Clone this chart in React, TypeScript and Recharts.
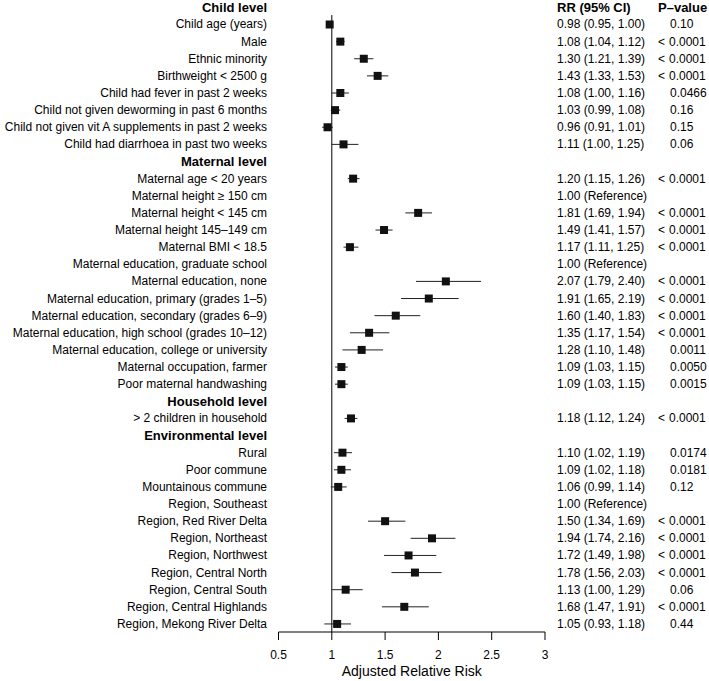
import { ScatterChart, Scatter, XAxis, YAxis, ErrorBar, ReferenceLine } from "recharts";

const labels = [
  "Child level",
  "Child age (years)",
  "Male",
  "Ethnic minority",
  "Birthweight < 2500 g",
  "Child had fever in past 2 weeks",
  "Child not given deworming in past 6 months",
  "Child not given vit A supplements in past 2 weeks",
  "Child had diarrhoea in past two weeks",
  "Maternal level",
  "Maternal age < 20 years",
  "Maternal height ≥ 150 cm",
  "Maternal height < 145 cm",
  "Maternal height 145–149 cm",
  "Maternal BMI < 18.5",
  "Maternal education, graduate school",
  "Maternal education, none",
  "Maternal education, primary (grades 1–5)",
  "Maternal education, secondary (grades 6–9)",
  "Maternal education, high school (grades 10–12)",
  "Maternal education, college or university",
  "Maternal occupation, farmer",
  "Poor maternal handwashing",
  "Household level",
  "> 2 children in household",
  "Environmental level",
  "Rural",
  "Poor commune",
  "Mountainous commune",
  "Region, Southeast",
  "Region, Red River Delta",
  "Region, Northeast",
  "Region, Northwest",
  "Region, Central North",
  "Region, Central South",
  "Region, Central Highlands",
  "Region, Mekong River Delta",
];

const headerRows = [0, 9, 23, 25];

// null = no estimate drawn (section header or reference category)
const rr = [
  null, 0.98, 1.08, 1.3, 1.43, 1.08, 1.03, 0.96, 1.11,
  null, 1.2, null, 1.81, 1.49, 1.17, null, 2.07, 1.91, 1.6, 1.35, 1.28, 1.09, 1.09,
  null, 1.18,
  null, 1.1, 1.09, 1.06, null, 1.5, 1.94, 1.72, 1.78, 1.13, 1.68, 1.05,
];
const lower = [
  null, 0.95, 1.04, 1.21, 1.33, 1.0, 0.99, 0.91, 1.0,
  null, 1.15, null, 1.69, 1.41, 1.11, null, 1.79, 1.65, 1.4, 1.17, 1.1, 1.03, 1.03,
  null, 1.12,
  null, 1.02, 1.02, 0.99, null, 1.34, 1.74, 1.49, 1.56, 1.0, 1.47, 0.93,
];
const upper = [
  null, 1.0, 1.12, 1.39, 1.53, 1.16, 1.08, 1.01, 1.25,
  null, 1.26, null, 1.94, 1.57, 1.25, null, 2.4, 2.19, 1.83, 1.54, 1.48, 1.15, 1.15,
  null, 1.24,
  null, 1.19, 1.18, 1.14, null, 1.69, 2.16, 1.98, 2.03, 1.29, 1.91, 1.18,
];
const pValues = [
  "", "0.10", "< 0.0001", "< 0.0001", "< 0.0001", "0.0466", "0.16", "0.15", "0.06",
  "", "< 0.0001", "", "< 0.0001", "< 0.0001", "< 0.0001", "", "< 0.0001", "< 0.0001",
  "< 0.0001", "< 0.0001", "0.0011", "0.0050", "0.0015",
  "", "< 0.0001",
  "", "0.0174", "0.0181", "0.12", "", "< 0.0001", "< 0.0001", "< 0.0001", "< 0.0001",
  "0.06", "< 0.0001", "0.44",
];

const xTicks = [0.5, 1, 1.5, 2, 2.5, 3];
const rrHeader = "RR (95% CI)";
const pHeader = "P–value";
const xTitle = "Adjusted Relative Risk";

const fmt = (v: number) => v.toFixed(2);

const rows = labels.map((label, i) => {
  const est = rr[i];
  const lo = lower[i];
  const hi = upper[i];
  let rrText = "";
  if (est != null && lo != null && hi != null) rrText = `${fmt(est)} (${fmt(lo)}, ${fmt(hi)})`;
  else if (!headerRows.includes(i)) rrText = "1.00 (Reference)";
  return { row: i, label, rr: est, lo, hi, rrText, p: pValues[i], header: headerRows.includes(i) };
});

const points = rows
  .filter((r) => r.rr != null)
  .map((r) => ({ row: r.row, rr: r.rr as number, err: [(r.rr as number) - (r.lo as number), (r.hi as number) - (r.rr as number)] }));

const FONT = "'Liberation Sans', Arial, Helvetica, sans-serif";

// text columns: labels on the left, estimates and p-values on the right
const RowTick = (props: any) => {
  const { y, payload } = props;
  const r = rows[payload.value];
  if (!r) return null;
  return (
    <g fontFamily={FONT} fill="#000">
      <text
        x={267}
        y={y}
        textAnchor="end"
        dominantBaseline="central"
        fontSize={r.header ? 13 : 12}
        fontWeight={r.header ? "bold" : "normal"}
      >
        {r.label}
      </text>
      {r.row === 0 && (
        <>
          <text x={557} y={y} dominantBaseline="central" fontSize={13} fontWeight="bold">
            {rrHeader}
          </text>
          <text x={658} y={y} dominantBaseline="central" fontSize={13} fontWeight="bold">
            {pHeader}
          </text>
        </>
      )}
      {r.rrText && (
        <text x={557} y={y} dominantBaseline="central" fontSize={12}>
          {r.rrText}
        </text>
      )}
      {r.p &&
        (r.p.startsWith("<") ? (
          <>
            <text x={658} y={y} dominantBaseline="central" fontSize={12}>
              {"<"}
            </text>
            <text x={669} y={y} dominantBaseline="central" fontSize={12}>
              {r.p.replace("< ", "")}
            </text>
          </>
        ) : (
          <text x={670} y={y} dominantBaseline="central" fontSize={12}>
            {r.p}
          </text>
        ))}
    </g>
  );
};

const Square = (props: any) => {
  const { cx, cy } = props;
  return <rect x={cx - 4} y={cy - 4} width={8} height={8} fill="#111" />;
};

export default function App() {
  return (
    <div style={{ position: "absolute", left: 0, top: 0, background: "#fff" }}>
      <ScatterChart width={709} height={681} margin={{ top: 0, right: 164, bottom: 0, left: 0 }}>
        <XAxis
          type="number"
          dataKey="rr"
          domain={[0.5, 3]}
          ticks={xTicks}
          interval={0}
          allowDataOverflow
          height={49}
          stroke="#000"
          tickSize={8}
          tickMargin={10}
          tick={{ fill: "#000", fontSize: 12, fontFamily: FONT }}
          label={{ value: xTitle, position: "insideBottom", offset: 5, fill: "#000", fontSize: 14, fontFamily: FONT }}
        />
        <YAxis
          type="number"
          dataKey="row"
          domain={[-0.43, 36.47]}
          reversed
          ticks={rows.map((r) => r.row)}
          interval={0}
          allowDataOverflow
          width={278.5}
          axisLine={false}
          tickLine={false}
          tick={<RowTick />}
        />
        <ReferenceLine
          segment={[
            { x: 1, y: 0.45 },
            { x: 1, y: 36.47 },
          ]}
          stroke="#000"
          strokeWidth={1}
          ifOverflow="visible"
        />
        <Scatter data={points} shape={<Square />} isAnimationActive={false}>
          <ErrorBar dataKey="err" direction="x" width={0} stroke="#222" strokeWidth={1} isAnimationActive={false} />
        </Scatter>
      </ScatterChart>
    </div>
  );
}
